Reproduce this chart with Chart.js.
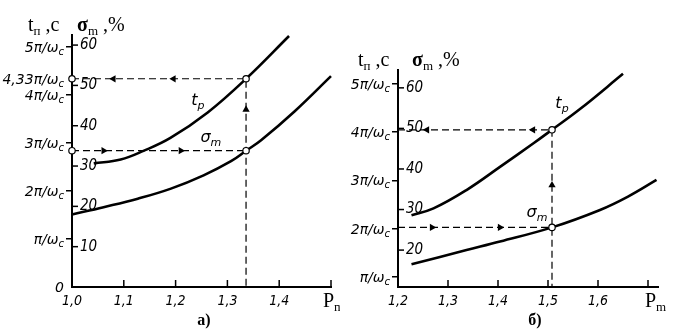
<!DOCTYPE html>
<html><head><meta charset="utf-8">
<script src="https://cdn.jsdelivr.net/npm/chart.js@4/dist/chart.umd.min.js"></script>
<style>
html,body{margin:0;padding:0;background:#fff;width:677px;height:334px;overflow:hidden}
#a{position:absolute;left:0;top:0}
#b{position:absolute;left:340px;top:0}
</style></head><body>
<canvas id="a" width="340" height="334"></canvas>
<canvas id="b" width="337" height="334"></canvas>
<script>
// ---------- panel а) ----------
const A_X_TICKS = [1.0, 1.1, 1.2, 1.3, 1.4, 1.5];
const A_X_LABELS = ['1,0', '1,1', '1,2', '1,3', '1,4', ''];
const A_T_TICKS = [0, 1, 2, 3, 4, 4.33, 5];
const A_T_MAIN = ['0', 'π/ω', '2π/ω', '3π/ω', '4π/ω', '4,33π/ω', '5π/ω'];
const A_T_SUB = ['', 'c', 'c', 'c', 'c', 'c', 'c'];
const A_T_MARK = [false, true, true, true, true, false, true];
const A_S_TICKS = [10, 20, 30, 40, 50, 60];
const A_TP_P = [1.042, 1.094, 1.138, 1.19, 1.262, 1.336, 1.419];
const A_TP_T = [2.57, 2.65, 2.83, 3.10, 3.63, 4.33, 5.22];
const A_SM_P = [1.0, 1.061, 1.127, 1.191, 1.254, 1.307, 1.336, 1.365, 1.43, 1.5];
const A_SM_S = [18.0, 19.8, 21.9, 24.4, 27.7, 31.2, 33.8, 36.4, 43.6, 52.3];
const A_P_STAR = 1.336, A_T_STAR = 4.33, A_S_STAR = 33.8;
const A_CIRC_T_P = [1.0, 1.336], A_CIRC_T_V = [4.33, 4.33];
const A_CIRC_S_P = [1.0, 1.336], A_CIRC_S_V = [33.8, 33.8];
const A_ARR_T_P = [1.08, 1.196, 1.336], A_ARR_T_V = [4.33, 4.33, 3.69], A_ARR_T_ROT = [-90, -90, 0];
const A_ARR_S_P = [1.061, 1.21], A_ARR_S_V = [33.8, 33.8], A_ARR_S_ROT = [90, 90];

// ---------- panel б) ----------
const B_X_TICKS = [1.2, 1.3, 1.4, 1.5, 1.6, 1.7];
const B_X_LABELS = ['1,2', '1,3', '1,4', '1,5', '1,6', ''];
const B_T_TICKS = [1, 2, 3, 4, 5];
const B_T_MAIN = ['π/ω', '2π/ω', '3π/ω', '4π/ω', '5π/ω'];
const B_T_SUB = ['c', 'c', 'c', 'c', 'c'];
const B_T_MARK = [true, true, true, true, true];
const B_S_TICKS = [20, 30, 40, 50, 60];
const B_TP_P = [1.227, 1.271, 1.337, 1.404, 1.471, 1.508, 1.564, 1.65];
const B_TP_T = [2.28, 2.42, 2.80, 3.28, 3.77, 4.05, 4.48, 5.21];
const B_SM_P = [1.227, 1.337, 1.404, 1.508, 1.604, 1.66, 1.717];
const B_SM_S = [16.5, 20.0, 22.1, 25.6, 29.9, 33.2, 37.3];
const B_P_STAR = 1.508, B_T_STAR = 4.05, B_S_STAR = 25.6;
const B_CIRC_T_P = [1.508], B_CIRC_T_V = [4.05];
const B_CIRC_S_P = [1.508], B_CIRC_S_V = [25.6];
const B_ARR_T_P = [1.258, 1.47, 1.508], B_ARR_T_V = [4.05, 4.05, 2.9], B_ARR_T_ROT = [-90, -90, 0];
const B_ARR_S_P = [1.268, 1.404], B_ARR_S_V = [25.6, 25.6], B_ARR_S_ROT = [90, 90];

const NARROW = "'Liberation Sans Narrow','DejaVu Sans Condensed','Liberation Sans',sans-serif";
const SANS = "'DejaVu Sans','Liberation Sans',sans-serif";
const SERIF = "'Liberation Serif','DejaVu Serif',serif";

function richText(ctx, x, y, parts, align) {
  const ws = parts.map(p => { ctx.font = p[1]; return ctx.measureText(p[0]).width; });
  const total = ws.reduce((a, b) => a + b, 0);
  let cx = align === 'right' ? x - total : (align === 'center' ? x - total / 2 : x);
  ctx.textAlign = 'left'; ctx.textBaseline = 'alphabetic';
  parts.forEach((p, i) => { ctx.font = p[1]; ctx.fillText(p[0], cx, y + (p[2] || 0)); cx += ws[i]; });
}

function makeChart(id, D) {
  const xy = (xs, ys) => xs.map((x, i) => ({x: x, y: ys[i]}));
  const base = {showLine: false, clip: false, borderWidth: 0};
  const datasets = [
    Object.assign({}, base, {data: xy(D.circTP, D.circTV), yAxisID: 't', pointStyle: 'circle', pointRadius: 3.2,
      pointBackgroundColor: '#fff', pointBorderColor: '#000', pointBorderWidth: 1.2}),
    Object.assign({}, base, {data: xy(D.circSP, D.circSV), yAxisID: 's', pointStyle: 'circle', pointRadius: 3.2,
      pointBackgroundColor: '#fff', pointBorderColor: '#000', pointBorderWidth: 1.2}),
    Object.assign({}, base, {data: xy(D.arrTP, D.arrTV), yAxisID: 't', pointStyle: 'triangle', pointRadius: 4.2,
      pointRotation: D.arrTR, pointBackgroundColor: '#000', pointBorderColor: '#000', pointBorderWidth: 0}),
    Object.assign({}, base, {data: xy(D.arrSP, D.arrSV), yAxisID: 's', pointStyle: 'triangle', pointRadius: 4.2,
      pointRotation: D.arrSR, pointBackgroundColor: '#000', pointBorderColor: '#000', pointBorderWidth: 0}),
    {data: xy(D.tpP, D.tpT), yAxisID: 't', borderColor: '#000', borderWidth: 2.6, pointRadius: 0,
      tension: 0.4, fill: false, clip: false},
    {data: xy(D.smP, D.smS), yAxisID: 's', borderColor: '#000', borderWidth: 2.6, pointRadius: 0,
      tension: 0.4, fill: false, clip: false},
    {data: [{x: D.xMin, y: D.tStar}, {x: D.pStar, y: D.tStar}, {x: D.pStar, y: D.tMin}], yAxisID: 't',
      borderColor: '#000', borderWidth: 1.2, borderDash: [7, 4], pointRadius: 0, tension: 0, fill: false, clip: false},
    {data: [{x: D.xMin, y: D.sStar}, {x: D.pStar, y: D.sStar}], yAxisID: 's',
      borderColor: '#000', borderWidth: 1.2, borderDash: [7, 4], pointRadius: 0, tension: 0, fill: false, clip: false}
  ];

  const overlay = {
    id: 'overlay' + id,
    afterDraw(chart) {
      const ctx = chart.ctx, X = chart.scales.x, T = chart.scales.t, S = chart.scales.s, ca = chart.chartArea;
      ctx.save();
      ctx.fillStyle = '#000'; ctx.strokeStyle = '#000';
      ctx.lineWidth = 1.5;
      X.ticks.forEach(tk => {
        const px = X.getPixelForValue(tk.value);
        ctx.beginPath(); ctx.moveTo(px, ca.bottom); ctx.lineTo(px, ca.bottom - 7); ctx.stroke();
      });
      S.ticks.forEach(tk => {
        const py = S.getPixelForValue(tk.value);
        ctx.beginPath(); ctx.moveTo(ca.left + 1, py); ctx.lineTo(ca.left + 6, py); ctx.stroke();
      });
      const TF = 'italic 14px ' + SANS, TSF = 'italic 10px ' + SANS;
      T.ticks.forEach((tk, i) => {
        const py = T.getPixelForValue(tk.value);
        richText(ctx, ca.left - 8, py + 5, [[D.tMain[i], TF, 0], [D.tSub[i], TSF, 3]], 'right');
      });
      const F20 = '20px ' + SERIF, F13 = '13px ' + SERIF, B20 = 'bold 20px ' + SERIF;
      const hy = ca.top - 4;
      richText(ctx, ca.left + D.h1, hy, [['t', F20, 0], ['п', F13, 4], [' ,c', F20, 0]], 'left');
      richText(ctx, ca.left + D.h2, hy, [['σ', B20, 0], ['m', F13, 4], [' ,%', F20, 0]], 'left');
      richText(ctx, ca.right + D.pmDx, ca.bottom + 20, [['P', F20, 0], ['m', F13, 4]], 'left');
      richText(ctx, D.panelX, 325, [[D.panel, 'bold 16px ' + SERIF, 0]], 'center');
      const LF = 'italic 16px ' + SANS, LSF = 'italic 11px ' + SANS;
      richText(ctx, X.getPixelForValue(D.tpLab[0]), T.getPixelForValue(D.tpLab[1]) + 5,
        [['t', LF, 0], ['p', LSF, 4]], 'center');
      richText(ctx, X.getPixelForValue(D.smLab[0]), S.getPixelForValue(D.smLab[1]) + 5,
        [['σ', LF, 0], ['m', LSF, 4]], 'center');
      ctx.restore();
    }
  };

  return new Chart(document.getElementById(id), {
    type: 'line',
    data: {datasets: datasets},
    options: {
      responsive: false, animation: false,
      layout: {padding: D.pad},
      plugins: {legend: {display: false}, tooltip: {enabled: false}},
      scales: {
        x: {
          type: 'linear', position: 'bottom', min: D.xMin, max: D.xMax,
          afterBuildTicks: s => { s.ticks = D.xTicks.map(v => ({value: v})); },
          ticks: {autoSkip: false, maxRotation: 0, padding: 6, color: '#000',
            font: {family: NARROW, style: 'italic', size: 14},
            callback: (v, i) => D.xLabels[i]},
          grid: {display: true, drawOnChartArea: false, drawTicks: false},
          border: {display: true, color: '#000', width: 2},
          afterFit: s => { s.height = 47; }
        },
        t: {
          axis: 'y', type: 'linear', position: 'left', weight: 10, min: D.tMin, max: D.tMax,
          afterBuildTicks: s => { s.ticks = D.tTicks.map(v => ({value: v})); },
          ticks: {display: false},
          grid: {display: true, drawOnChartArea: false, drawTicks: true, tickLength: 6, lineWidth: 1.5,
            color: c => D.tMark[c.index] ? '#000' : 'rgba(0,0,0,0)'},
          border: {display: true, color: '#000', width: 2},
          afterFit: s => { s.width = D.axisW; }
        },
        s: {
          axis: 'y', type: 'linear', position: 'left', weight: 0, min: D.sMin, max: D.sMax,
          afterBuildTicks: s => { s.ticks = D.sTicks.map(v => ({value: v})); },
          ticks: {mirror: true, padding: 8, color: '#000',
            font: {family: NARROW, style: 'italic', size: 15},
            callback: v => String(v)},
          grid: {display: false},
          border: {display: false},
          afterFit: s => { s.width = 0; }
        }
      }
    },
    plugins: [overlay]
  });
}

makeChart('a', {
  xMin: 1.0, xMax: 1.5, xTicks: A_X_TICKS, xLabels: A_X_LABELS,
  tMin: 0, tMax: 5.24, tTicks: A_T_TICKS, tMain: A_T_MAIN, tSub: A_T_SUB, tMark: A_T_MARK,
  sMin: 0, sMax: 62.5, sTicks: A_S_TICKS,
  tpP: A_TP_P, tpT: A_TP_T, smP: A_SM_P, smS: A_SM_S,
  pStar: A_P_STAR, tStar: A_T_STAR, sStar: A_S_STAR,
  circTP: A_CIRC_T_P, circTV: A_CIRC_T_V, circSP: A_CIRC_S_P, circSV: A_CIRC_S_V,
  arrTP: A_ARR_T_P, arrTV: A_ARR_T_V, arrTR: A_ARR_T_ROT,
  arrSP: A_ARR_S_P, arrSV: A_ARR_S_V, arrSR: A_ARR_S_ROT,
  tpLab: [1.243, 3.89], smLab: [1.268, 37.2],
  pad: {left: 0, top: 35, right: 9, bottom: 0}, axisW: 72,
  h1: -44, h2: 5, pmDx: -8, panelX: 204, panel: 'а)'
});

makeChart('b', {
  xMin: 1.2, xMax: 1.72, xTicks: B_X_TICKS, xLabels: B_X_LABELS,
  tMin: 0.79, tMax: 5.29, tTicks: B_T_TICKS, tMain: B_T_MAIN, tSub: B_T_SUB, tMark: B_T_MARK,
  sMin: 10.9, sMax: 64.4, sTicks: B_S_TICKS,
  tpP: B_TP_P, tpT: B_TP_T, smP: B_SM_P, smS: B_SM_S,
  pStar: B_P_STAR, tStar: B_T_STAR, sStar: B_S_STAR,
  circTP: B_CIRC_T_P, circTV: B_CIRC_T_V, circSP: B_CIRC_S_P, circSV: B_CIRC_S_V,
  arrTP: B_ARR_T_P, arrTV: B_ARR_T_V, arrTR: B_ARR_T_ROT,
  arrSP: B_ARR_S_P, arrSV: B_ARR_S_V, arrSR: B_ARR_S_ROT,
  tpLab: [1.528, 4.6], smLab: [1.478, 29.4],
  pad: {left: 0, top: 70, right: 19, bottom: 0}, axisW: 58,
  h1: -40, h2: 14, pmDx: -13, panelX: 195, panel: 'б)'
});
</script>
</body></html>
